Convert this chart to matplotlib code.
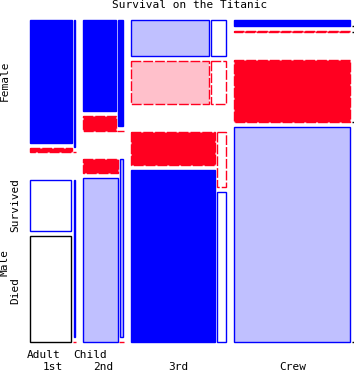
import matplotlib
matplotlib.use("Agg")
import matplotlib.pyplot as plt
from matplotlib.patches import Rectangle

# -------------------------
# Data (Titanic counts)
# -------------------------
classes = ["1st", "2nd", "3rd", "Crew"]
sexes = ["Female", "Male"]
ages = ["Adult", "Child"]

female_adult_yes = [140, 80, 76, 20]
female_adult_no = [4, 13, 89, 3]
female_child_yes = [1, 13, 14, 0]
female_child_no = [0, 0, 17, 0]
male_adult_yes = [57, 14, 75, 192]
male_adult_no = [118, 154, 387, 670]
male_child_yes = [5, 11, 13, 0]
male_child_no = [0, 0, 35, 0]

# residual shading:
# 3/-3 strong, 2/-2 moderate, 1/-1 weak (outline only), 0 none
shade_female_adult_yes = [3, 3, 2, 3]
shade_female_adult_no = [-3, -3, -2, -3]
shade_female_child_yes = [3, 3, 1, 0]
shade_female_child_no = [-1, -1, -1, 0]
shade_male_adult_yes = [1, -3, -3, -3]
shade_male_adult_no = [0, 2, 3, 2]
shade_male_child_yes = [1, 2, -1, 0]
shade_male_child_no = [-1, -1, 1, 0]

counts = {
    ("Female", "Adult"): (female_adult_yes, female_adult_no),
    ("Female", "Child"): (female_child_yes, female_child_no),
    ("Male", "Adult"): (male_adult_yes, male_adult_no),
    ("Male", "Child"): (male_child_yes, male_child_no),
}
shades = {
    ("Female", "Adult"): (shade_female_adult_yes, shade_female_adult_no),
    ("Female", "Child"): (shade_female_child_yes, shade_female_child_no),
    ("Male", "Adult"): (shade_male_adult_yes, shade_male_adult_no),
    ("Male", "Child"): (shade_male_child_yes, shade_male_child_no),
}

BLUE = "#0000FF"
RED = "#FF0020"
LIGHT_BLUE = "#C0C0FF"
PINK = "#FFC0CB"
DASH = (0, (7, 1.5))

STYLE = {
    3: (BLUE, BLUE, "solid"),
    2: (LIGHT_BLUE, BLUE, "solid"),
    1: ("white", BLUE, "solid"),
    0: ("white", "black", "solid"),
    -1: ("white", RED, DASH),
    -2: (PINK, RED, DASH),
    -3: (RED, RED, DASH),
}

# -------------------------
# Layout (pixel space)
# -------------------------
X0, X1 = 30, 352
Y0, Y1 = 20, 342
GAP_CLASS, GAP_AGE = 8.5, 2.3
GAP_SEX, GAP_SURV = 28, 5
W_CONTENT = (X1 - X0) - 3 * GAP_CLASS - 4 * GAP_AGE
H_CONTENT = (Y1 - Y0) - GAP_SEX - 2 * GAP_SURV
LW = 1.0


def draw_cell(ax, x, y, w, h, code):
    face, edge, ls = STYLE[code]
    if w <= 0:
        ax.plot([x, x + 2.5], [y + h, y + h], color="black", lw=LW,
                solid_capstyle="butt")
        return
    if h <= 0:
        ax.plot([x - 1, x + w + 1], [y, y], color=edge, lw=LW,
                solid_capstyle="butt")
        return
    ax.add_patch(Rectangle((x, y), w, h, facecolor=face,
                           edgecolor=edge, lw=LW, linestyle=ls))


fig = plt.figure(figsize=(3.54, 3.73), dpi=100)
ax = fig.add_axes([0, 0, 1, 1])
ax.set_xlim(0, 354)
ax.set_ylim(373, 0)
ax.axis("off")

n_class = []
for i in range(len(classes)):
    n = 0
    for key, (yes, no) in counts.items():
        n += yes[i] + no[i]
    n_class.append(n)
N = sum(n_class)

FONT = dict(family="DejaVu Sans Mono", fontsize=8, color="black")

x = X0
for i, cls in enumerate(classes):
    cw = n_class[i] / N * W_CONTENT
    y = Y0
    for sex in sexes:
        n_sex = sum(counts[(sex, a)][0][i] + counts[(sex, a)][1][i] for a in ages)
        yes_sex = sum(counts[(sex, a)][0][i] for a in ages)
        sh = n_sex / n_class[i] * H_CONTENT
        xa = x
        for age in ages:
            yes, no = counts[(sex, age)]
            sy, sn = shades[(sex, age)]
            n_age = yes[i] + no[i]
            aw = n_age / n_sex * cw
            p_yes = yes[i] / n_age if n_age > 0 else yes_sex / n_sex
            h_yes = p_yes * sh
            h_no = sh - h_yes
            draw_cell(ax, xa, y, aw, h_yes, sy[i])
            draw_cell(ax, xa, y + h_yes + GAP_SURV, aw, h_no, sn[i])
            xa += aw + GAP_AGE
        y += sh + GAP_SURV + GAP_SEX
    ax.text(x + (cw + GAP_AGE) / 2, 366.5, cls, ha="center", va="center", **FONT)
    x += cw + GAP_AGE + GAP_CLASS

# -------------------------
# Labels
# -------------------------
ax.text(190, 5, "Survival on the Titanic", ha="center", va="center", **FONT)
ax.text(4.5, 81, "Female", rotation=90, ha="center", va="center", **FONT)
ax.text(4.5, 263, "Male", rotation=90, ha="center", va="center", **FONT)
ax.text(15, 205, "Survived", rotation=90, ha="center", va="center", **FONT)
ax.text(15, 291, "Died", rotation=90, ha="center", va="center", **FONT)
ax.text(44, 355.5, "Adult", ha="center", va="center", **FONT)
ax.text(90, 355.5, "Child", ha="center", va="center", **FONT)

fig.savefig("out.png", dpi=100)
